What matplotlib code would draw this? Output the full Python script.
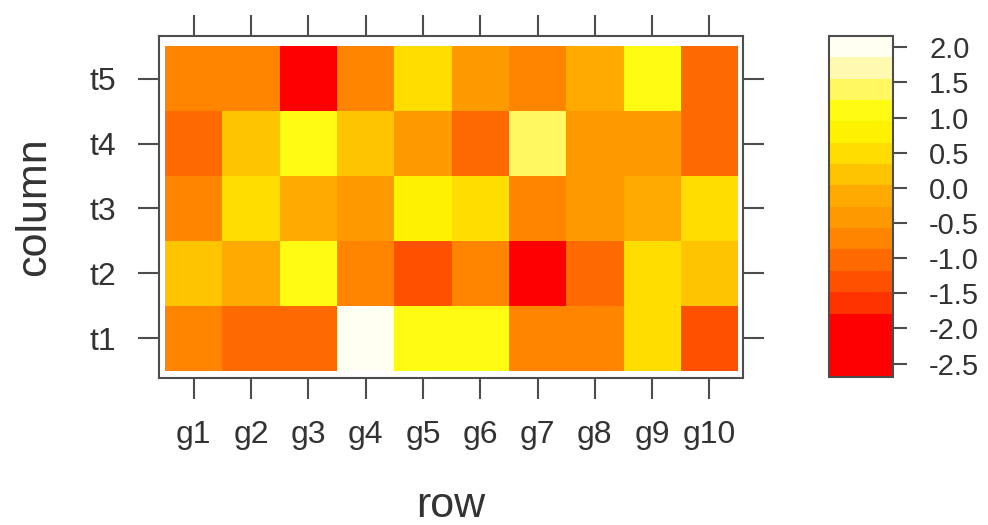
import numpy as np
import matplotlib
matplotlib.use('Agg')
import matplotlib.pyplot as plt
from matplotlib.colors import ListedColormap, BoundaryNorm

plt.rcParams['font.family'] = ['Liberation Sans', 'DejaVu Sans']
plt.rcParams['axes.unicode_minus'] = False

# data: rows t1..t5 (bottom to top), columns g1..g10
cols = ['g1', 'g2', 'g3', 'g4', 'g5', 'g6', 'g7', 'g8', 'g9', 'g10']
rows = ['t1', 't2', 't3', 't4', 't5']
t1 = [-0.72, -1.02, -1.00, 2.05, 1.10, 1.12, -0.70, -0.74, 0.49, -1.33]
t2 = [0.19, -0.12, 1.08, -0.72, -1.33, -0.72, -2.62, -1.02, 0.50, 0.20]
t3 = [-0.72, 0.49, -0.12, -0.42, 0.80, 0.48, -0.72, -0.42, -0.12, 0.49]
t4 = [-1.02, 0.19, 1.10, 0.19, -0.42, -1.02, 1.40, -0.42, -0.42, -1.02]
t5 = [-0.72, -0.72, -2.30, -0.72, 0.49, -0.42, -0.72, -0.12, 1.10, -1.02]

levels = [-2.69, -1.79, -1.48, -1.18, -0.87, -0.57, -0.27, 0.04, 0.34,
          0.64, 0.95, 1.25, 1.55, 1.86, 2.16]
level_colors = ['#FF0000', '#FF3300', '#FF5000', '#FF6A00', '#FF8400', '#FF9900',
                '#FFAA00', '#FFC400', '#FFDD00', '#FFF200', '#FFFA12', '#FFF860',
                '#FFFAB0', '#FFFFF2']
cbar_ticks = [-2.5, -2.0, -1.5, -1.0, -0.5, 0.0, 0.5, 1.0, 1.5, 2.0]

z = np.array([t1, t2, t3, t4, t5])
cmap = ListedColormap(level_colors)
norm = BoundaryNorm(levels, cmap.N)

W, H = 988, 525
fig = plt.figure(figsize=(W / 100, H / 100), dpi=100)
frame = '#4d4d4d'
txt = '#333333'

# main panel
ax = fig.add_axes([159 / W, 1 - 378 / H, (743 - 159) / W, (378 - 36) / H])
x = np.arange(len(cols) + 1) + 0.5
y = np.arange(len(rows) + 1) + 0.5
ax.pcolormesh(x, y, z, cmap=cmap, norm=norm)
ax.set_xlim(0.395, 10.585)
ax.set_ylim(0.392, 5.654)
ax.set_xticks(np.arange(1, len(cols) + 1))
ax.set_xticklabels(cols)
ax.set_yticks(np.arange(1, len(rows) + 1))
ax.set_yticklabels(rows)
ax.tick_params(direction='out', length=15, width=1.5, color=frame,
               labelsize=23, labelcolor=txt, top=True, right=True)
ax.tick_params(axis='x', pad=15)
ax.tick_params(axis='y', pad=16)
for s in ax.spines.values():
    s.set_color(frame)
    s.set_linewidth(1.5)

fig.text(45 / W, 1 - 207 / H, 'column', rotation=90, rotation_mode='anchor',
         ha='center', va='baseline', fontsize=31, color=txt)
fig.text(451 / W, 8 / H, 'row', ha='center', va='baseline',
         fontsize=31, color=txt)

# colour key
cax = fig.add_axes([829 / W, 1 - 377 / H, (893 - 829) / W, (377 - 36) / H])
cb = fig.colorbar(plt.cm.ScalarMappable(norm=norm, cmap=cmap), cax=cax,
                  boundaries=levels, spacing='proportional')
cb.set_ticks(cbar_ticks)
cb.set_ticklabels(['%.1f' % v for v in cbar_ticks])
cax.minorticks_off()
cax.tick_params(direction='out', length=10, width=1.5, color=frame,
                labelsize=21, labelcolor=txt, pad=16)
cb.outline.set_edgecolor(frame)
cb.outline.set_linewidth(1.5)

fig.savefig('out.png', dpi=100)
